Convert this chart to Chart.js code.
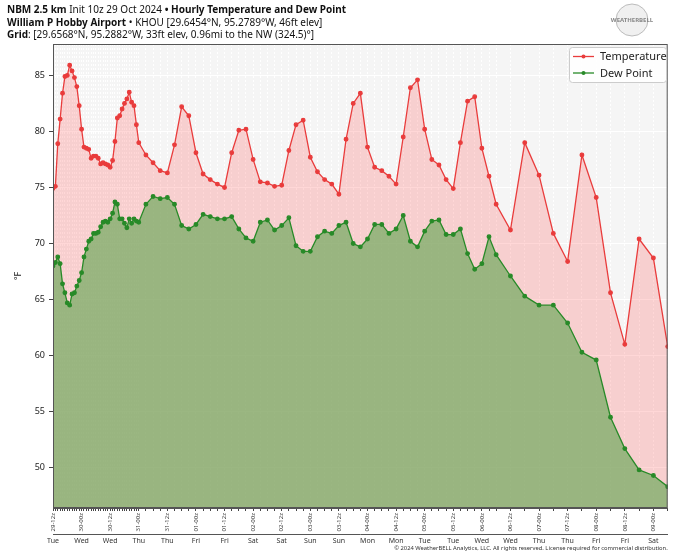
<!DOCTYPE html>
<html><head><meta charset="utf-8">
<script src="https://cdn.jsdelivr.net/npm/chart.js@4.4.0/dist/chart.umd.min.js"></script>
<style>html,body{margin:0;padding:0;background:#fff;}#wrap{width:680px;height:558px;position:relative;}</style>
</head><body><div id="wrap"><canvas id="c" width="680" height="558"></canvas></div>
<script>
// hours since 29 Oct 12z
const hours = [0,1,2,3,4,5,6,7,8,9,10,11,12,13,14,15,16,17,18,19,20,21,22,23,24,25,26,27,28,29,30,31,32,33,34,35,36,
39,42,45,48,51,54,57,60,63,66,69,72,75,78,81,84,87,90,93,96,99,102,105,108,111,114,117,120,123,126,129,132,135,138,141,144,147,150,153,156,159,162,165,168,171,174,177,180,183,186,
192,198,204,210,216,222,228,234,240,246,252,258];

const temperature = [74.9,75.1,78.9,81.1,83.4,84.9,85.0,85.9,85.4,84.8,84.0,82.3,80.2,78.6,78.5,78.4,77.6,77.8,77.8,77.6,77.1,77.2,77.1,77.0,76.8,77.4,79.1,81.2,81.4,82.0,82.5,82.9,83.5,82.6,82.3,80.6,79.0,
77.9,77.2,76.5,76.3,78.8,82.2,81.4,78.1,76.2,75.7,75.3,75.0,78.1,80.1,80.2,77.5,75.5,75.4,75.1,75.2,78.3,80.6,81.0,77.7,76.4,75.7,75.3,74.4,79.3,82.5,83.4,78.6,76.8,76.5,76.0,75.3,79.5,83.9,84.6,80.2,77.5,77.0,75.7,74.9,79.0,82.7,83.1,78.5,76.0,73.5,
71.2,79.0,76.1,70.9,68.4,77.9,74.1,65.6,61.0,70.4,68.7,60.8];

const dewPoint = [68.0,68.3,68.8,68.2,66.4,65.6,64.7,64.5,65.5,65.6,66.2,66.7,67.4,68.8,69.5,70.2,70.4,70.9,70.9,71.0,71.5,71.9,72.0,71.9,72.2,72.7,73.7,73.5,72.2,72.2,71.8,71.4,72.2,71.8,72.2,72.0,71.9,
73.5,74.2,74.0,74.1,73.5,71.6,71.3,71.7,72.6,72.4,72.2,72.2,72.4,71.3,70.5,70.2,71.9,72.1,71.2,71.6,72.3,69.8,69.3,69.3,70.6,71.1,70.9,71.6,71.9,70.0,69.7,70.4,71.7,71.7,70.9,71.3,72.5,70.2,69.7,71.1,72.0,72.1,70.8,70.8,71.3,69.1,67.7,68.2,70.6,69.0,
67.1,65.3,64.5,64.5,62.9,60.3,59.6,54.5,51.7,49.8,49.3,48.3];

const yTicks = [50,55,60,65,70,75,80,85];
const xTickHours = [0,12,24,36,48,60,72,84,96,108,120,132,144,156,168,180,192,204,216,228,240,252];
const xTickLabels = ['29-12z','30-00z','30-12z','31-00z','31-12z','01-00z','01-12z','02-00z','02-12z','03-00z','03-12z','04-00z','04-12z','05-00z','05-12z','06-00z','06-12z','07-00z','07-12z','08-00z','08-12z','09-00z'];
const dayLabels = ['Tue','Wed','Wed','Thu','Thu','Fri','Fri','Sat','Sat','Sun','Sun','Mon','Mon','Tue','Tue','Wed','Wed','Thu','Thu','Fri','Fri','Sat'];

const titleLines = [
  [['NBM 2.5 km', true], [' Init 10z 29 Oct 2024 ', false], ['\u2022', true], [' Hourly Temperature and Dew Point', true]],
  [['William P Hobby Airport', true], [' \u2022 KHOU [29.6454\u00b0N, 95.2789\u00b0W, 46ft elev]', false]],
  [['Grid', true], [': [29.6568\u00b0N, 95.2882\u00b0W, 33ft elev, 0.96mi to the NW (324.5)\u00b0]', false]]
];
const copyright = '\u00a9 2024 WeatherBELL Analytics, LLC. All rights reserved. License required for commercial distribution.';

const FONT = "'Noto Sans', 'DejaVu Sans', sans-serif";
const TEMP_COLOR = 'rgb(233,60,60)';
const DEW_COLOR = 'rgb(40,138,40)';

const bgPlugin = {
  id: 'bg',
  beforeDraw(chart) {
    const {ctx, chartArea: a} = chart;
    ctx.save();
    ctx.fillStyle = '#f5f5f5';
    ctx.fillRect(a.left, a.top, a.right - a.left, a.bottom - a.top);
    ctx.restore();
  }
};

const framePlugin = {
  id: 'frame',
  afterDatasetsDraw(chart) {
    const {ctx, chartArea: a} = chart;
    ctx.save();
    ctx.strokeStyle = '#555';
    ctx.lineWidth = 1;
    ctx.strokeRect(a.left + 0.5, a.top + 0.5, a.right - a.left - 1, a.bottom - a.top - 1);
    ctx.restore();
  }
};

const decoPlugin = {
  id: 'deco',
  afterDraw(chart) {
    const {ctx, chartArea: a} = chart;
    ctx.save();
    // titles
    const base = [13, 25.5, 37.5];
    titleLines.forEach((runs, i) => {
      let x = 7;
      runs.forEach(([t, b]) => {
        ctx.font = (b ? 'bold ' : '') + '10px ' + FONT;
        ctx.fillStyle = '#111';
        ctx.textBaseline = 'alphabetic';
        ctx.textAlign = 'left';
        ctx.fillText(t, x, base[i]);
        x += ctx.measureText(t).width;
      });
    });
    // copyright
    ctx.font = '5.8px ' + FONT;
    ctx.fillStyle = '#333';
    ctx.textAlign = 'right';
    ctx.textBaseline = 'middle';
    ctx.fillText(copyright, a.right, 548.5);
    // logo
    ctx.beginPath();
    ctx.arc(632, 20, 16, 0, Math.PI * 2);
    ctx.fillStyle = '#f0f0f0';
    ctx.fill();
    ctx.strokeStyle = '#bbb';
    ctx.lineWidth = 1;
    ctx.stroke();
    ctx.font = 'bold 6px ' + FONT;
    ctx.fillStyle = '#888';
    ctx.textAlign = 'center';
    ctx.fillText('WEATHERBELL', 632, 20);
    // legend
    const lx = 569, ly = 47, lw = 97, lh = 35;
    ctx.beginPath();
    ctx.roundRect(lx + 0.5, ly + 0.5, lw, lh, 3);
    ctx.fillStyle = 'rgba(255,255,255,0.9)';
    ctx.fill();
    ctx.strokeStyle = '#ccc';
    ctx.stroke();
    chart.data.datasets.forEach((ds, i) => {
      const y = ly + 9.5 + i * 16.5;
      ctx.strokeStyle = ds.borderColor;
      ctx.lineWidth = 1.3;
      ctx.beginPath();
      ctx.moveTo(lx + 4, y);
      ctx.lineTo(lx + 25, y);
      ctx.stroke();
      ctx.beginPath();
      ctx.arc(lx + 14.5, y, 2, 0, Math.PI * 2);
      ctx.fillStyle = ds.borderColor;
      ctx.fill();
      ctx.font = '11px ' + FONT;
      ctx.fillStyle = '#222';
      ctx.textAlign = 'left';
      ctx.textBaseline = 'middle';
      ctx.fillText(ds.label, lx + 31, y + 0.5);
    });
    ctx.restore();
  }
};

new Chart(document.getElementById('c'), {
  type: 'line',
  data: {
    labels: hours,
    datasets: [
      {
        label: 'Temperature',
        data: hours.map((h, i) => ({x: h, y: temperature[i]})),
        borderColor: TEMP_COLOR,
        backgroundColor: 'rgba(255,40,40,0.185)',
        pointBackgroundColor: TEMP_COLOR,
        pointBorderColor: TEMP_COLOR,
        pointRadius: 1.8,
        borderWidth: 1.3,
        fill: 'start',
        tension: 0,
        order: 1
      },
      {
        label: 'Dew Point',
        data: hours.map((h, i) => ({x: h, y: dewPoint[i]})),
        borderColor: DEW_COLOR,
        backgroundColor: 'rgba(116,170,97,0.72)',
        pointBackgroundColor: DEW_COLOR,
        pointBorderColor: DEW_COLOR,
        pointRadius: 1.8,
        borderWidth: 1.3,
        fill: 'start',
        tension: 0,
        order: 0
      }
    ]
  },
  options: {
    responsive: false,
    animation: false,
    devicePixelRatio: 1,
    layout: {padding: {left: 0, right: 12.3, top: 44, bottom: 0}},
    plugins: {legend: {display: false}, tooltip: {enabled: false}},
    scales: {
      x: {
        type: 'linear',
        position: 'bottom',
        min: 0, max: 258,
        afterBuildTicks: s => { s.ticks = hours.map(v => ({value: v})); },
        afterFit: s => { s.height = 26; },
        grid: {color: 'rgba(255,255,255,0.95)', lineWidth: 1, tickColor: '#444', tickLength: 3, drawTicks: true},
        border: {display: true, color: '#555', dash: [2, 2]},
        ticks: {
          autoSkip: false, minRotation: 90, maxRotation: 90, padding: 2,
          font: {size: 6, family: FONT}, color: '#333',
          callback: v => { const i = xTickHours.indexOf(v); return i >= 0 ? xTickLabels[i] : ''; }
        }
      },
      x2: {
        type: 'linear',
        position: 'bottom',
        min: 0, max: 258,
        afterBuildTicks: s => { s.ticks = xTickHours.map(v => ({value: v})); },
        afterFit: s => { s.height = 24; },
        grid: {display: false, drawTicks: false, tickLength: 0},
        border: {display: true, color: '#555', width: 1},
        ticks: {
          autoSkip: false, maxRotation: 0, minRotation: 0, padding: 3,
          font: {size: 7, family: FONT}, color: '#333',
          callback: v => { const i = xTickHours.indexOf(v); return i >= 0 ? dayLabels[i] : ''; }
        }
      },
      y: {
        type: 'linear',
        min: 46.4, max: 87.8,
        afterBuildTicks: s => { s.ticks = yTicks.map(v => ({value: v})); },
        afterFit: s => { s.width = 53; },
        grid: {color: 'rgba(255,255,255,0.95)', lineWidth: 1, tickColor: '#444', tickLength: 4},
        border: {display: true, color: '#555'},
        ticks: {font: {size: 9, family: FONT}, color: '#222', padding: 4},
        title: {display: true, text: '\u00b0F', font: {size: 9, family: FONT}, color: '#222', padding: {top: 13, bottom: 0}}
      }
    }
  },
  plugins: [bgPlugin, framePlugin, decoPlugin]
});
</script></body></html>
